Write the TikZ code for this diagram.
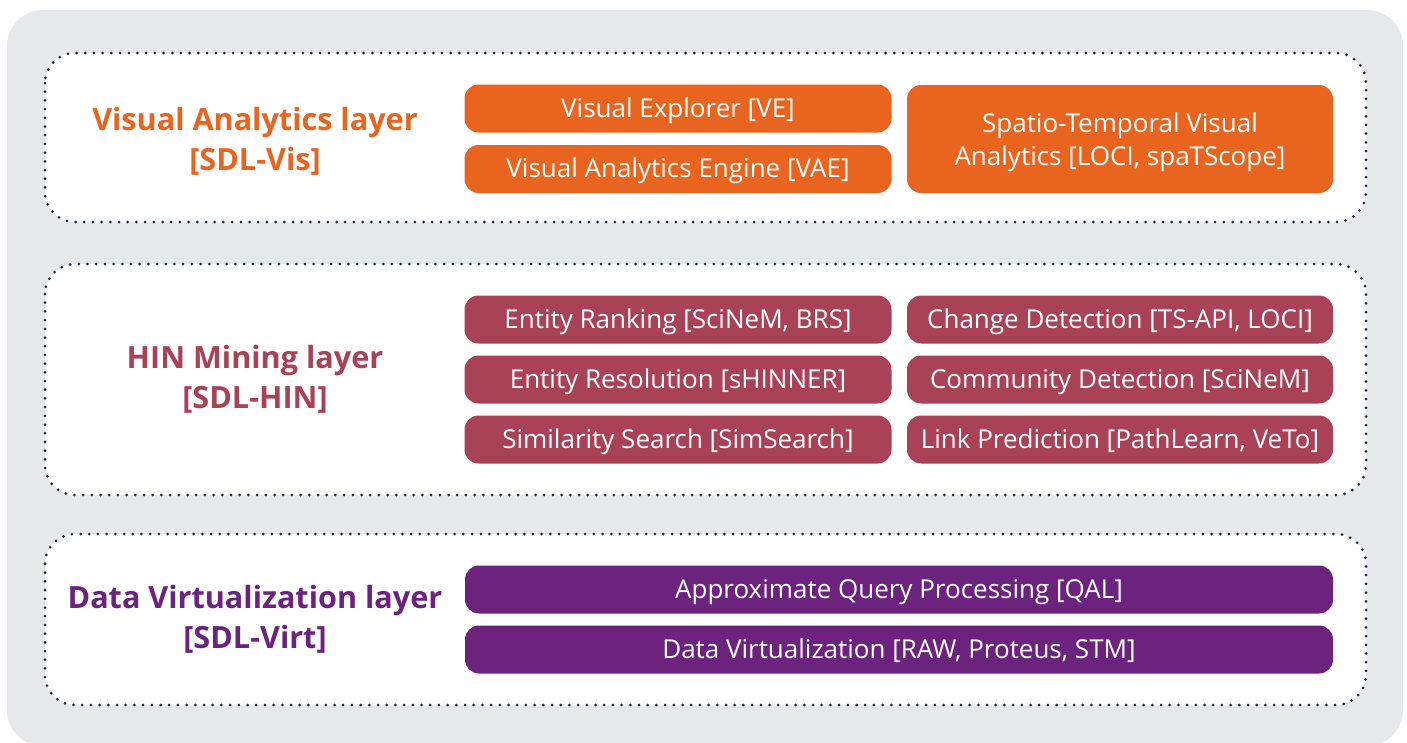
\documentclass[tikz,border=0pt]{standalone}
\usepackage{fontspec}
\setmainfont{Open Sans}
\definecolor{bggray}{HTML}{E6E9EA}
\definecolor{dotc}{HTML}{1B2A3A}
\definecolor{visc}{HTML}{E9641F}
\definecolor{hinc}{HTML}{AA4257}
\definecolor{virc}{HTML}{6B237E}
\begin{document}
\begin{tikzpicture}[x=1pt,y=-1pt,
  layerbox/.style={draw=dotc, line width=3pt, line cap=round, dash pattern=on 0pt off 8.7pt, rounded corners=30pt, fill=white},
  mbase/.style={rounded corners=14pt, text=white, font=\fontsize{26}{33}\selectfont, align=center, inner sep=0pt, minimum height=48pt},
  mbox/.style={mbase, text height=19pt, text depth=1.5pt},
  visbox/.style={mbox, fill=visc},
  hinbox/.style={mbox, fill=hinc},
  virbox/.style={mbox, fill=virc},
  lab/.style={font=\bfseries\fontsize{30.6}{40}\selectfont, align=center}
]
\useasboundingbox (0,0) rectangle (1407,742);
\fill[white] (0,0) rectangle (1407,742);
\fill[bggray, rounded corners=36pt] (7,10) rectangle (1403,746);

% layer frames
\draw[layerbox] (45,53) rectangle (1366,222);
\draw[layerbox] (45,264) rectangle (1366,495);
\draw[layerbox] (45,534) rectangle (1366,705);

% layer labels
\node[lab, text=visc] (lvis) at (255,141) {Visual Analytics layer\\{}[SDL-Vis]};
\node[lab, text=hinc] (lhin) at (255,379) {HIN Mining layer\\{}[SDL-HIN]};
\node[lab, text=virc] (lvir) at (255,619) {Data Virtualization layer\\{}[SDL-Virt]};

% visual analytics
\node[visbox, minimum width=427pt] (ve) at (678,108.5) {Visual Explorer [VE]};
\node[visbox, minimum width=427pt] (vae) at (678,169) {Visual Analytics Engine [VAE]};
\node[mbase, fill=visc, minimum width=426pt, minimum height=108pt] (st) at (1120,139) {\rule{0pt}{1.0em}Spatio-Temporal Visual\\Analytics [LOCI, spaTScope]};

% HIN
\node[hinbox, minimum width=427pt] (er) at (678,319.5) {Entity Ranking [SciNeM, BRS]};
\node[hinbox, minimum width=427pt] (eres) at (678,379.5) {Entity Resolution [sHINNER]};
\node[hinbox, minimum width=427pt] (ss) at (678,439.5) {Similarity Search [SimSearch]};
\node[hinbox, minimum width=426pt] (cd) at (1120,319.5) {Change Detection [TS-API, LOCI]};
\node[hinbox, minimum width=426pt] (comd) at (1120,379.5) {Community Detection [SciNeM]};
\node[hinbox, minimum width=426pt] (lp) at (1120,439.5) {Link Prediction [PathLearn, VeTo]};

% virtualization
\node[virbox, minimum width=868pt] (aqp) at (899,589.5) {Approximate Query Processing [QAL]};
\node[virbox, minimum width=868pt] (dv) at (899,649.5) {Data Virtualization [RAW, Proteus, STM]};
\end{tikzpicture}
\end{document}
